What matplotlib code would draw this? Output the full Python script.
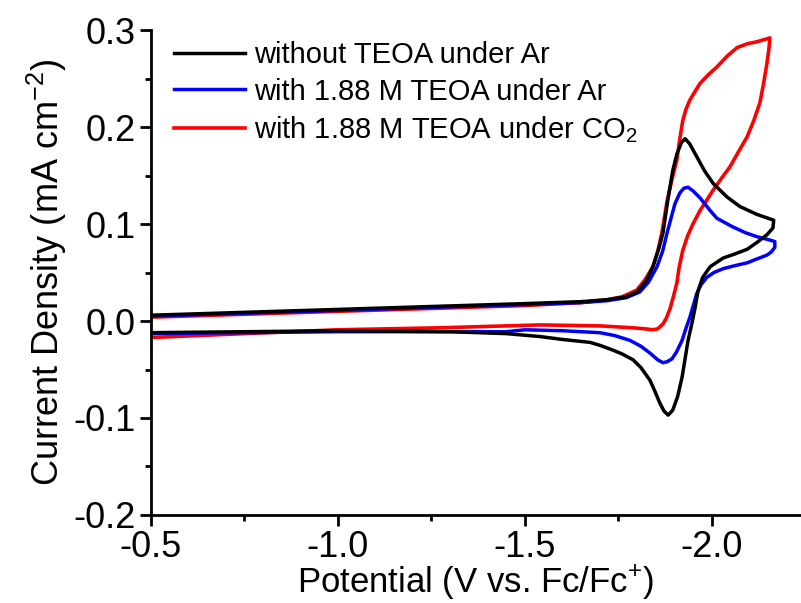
import matplotlib
matplotlib.use("Agg")
import matplotlib.pyplot as plt
from matplotlib.ticker import MultipleLocator, FormatStrFormatter

plt.rcParams['font.family'] = ['Liberation Sans', 'DejaVu Sans']
plt.rcParams['mathtext.default'] = 'regular'
plt.rcParams['axes.unicode_minus'] = False

# CV scans: forward sweep to the vertex, then back to -0.5 V
E_black = [-0.5, -0.75, -1.0, -1.25, -1.5, -1.65, -1.72, -1.77, -1.80, -1.825, -1.842, -1.858,
           -1.869, -1.882, -1.895, -1.906, -1.918, -1.928, -1.940, -1.960, -1.980, -2.003,
           -2.04, -2.075, -2.12, -2.165,
           -2.163, -2.147, -2.12, -2.094, -2.06, -2.03, -1.995, -1.975, -1.962, -1.955, -1.946,
           -1.936, -1.920, -1.908, -1.895, -1.883, -1.872, -1.861, -1.848, -1.834, -1.81, -1.789,
           -1.76, -1.735, -1.70, -1.674, -1.60, -1.54, -1.45, -1.3, -1.0, -0.75, -0.5]
j_black = [0.006, 0.009, 0.012, 0.015, 0.018, 0.020, 0.022, 0.025, 0.030, 0.042, 0.056, 0.075,
           0.091, 0.125, 0.155, 0.172, 0.184, 0.188, 0.183, 0.169, 0.155, 0.142,
           0.128, 0.118, 0.110, 0.104,
           0.096, 0.089, 0.081, 0.074, 0.069, 0.065, 0.056, 0.045, 0.030, 0.014, -0.003,
           -0.020, -0.058, -0.078, -0.092, -0.097, -0.093, -0.085, -0.073, -0.061, -0.048, -0.040,
           -0.034, -0.030, -0.025, -0.022, -0.019, -0.016, -0.013, -0.011, -0.010, -0.011, -0.012]

E_blue = [-0.5, -1.0, -1.5, -1.65, -1.72, -1.77, -1.807, -1.83, -1.853, -1.868, -1.88, -1.901,
          -1.914, -1.925, -1.936, -1.950, -1.968, -1.995, -2.013, -2.056, -2.09, -2.12, -2.150,
          -2.168,
          -2.168, -2.158, -2.147, -2.12, -2.094, -2.06, -2.03, -2.005, -1.986, -1.970, -1.959,
          -1.950, -1.941, -1.93, -1.92, -1.905, -1.893, -1.880, -1.869, -1.855, -1.834, -1.81,
          -1.781, -1.74, -1.70, -1.60, -1.50, -1.45, -1.3, -1.0, -0.5]
j_blue = [0.005, 0.011, 0.017, 0.019, 0.021, 0.024, 0.030, 0.040, 0.056, 0.072, 0.091, 0.121,
          0.132, 0.137, 0.138, 0.134, 0.127, 0.114, 0.106, 0.097, 0.091, 0.087, 0.084,
          0.082,
          0.076, 0.071, 0.068, 0.064, 0.060, 0.057, 0.054, 0.050, 0.045, 0.037, 0.028,
          0.016, 0.004, -0.008, -0.020, -0.032, -0.039, -0.042, -0.043, -0.040, -0.033, -0.026,
          -0.020, -0.015, -0.012, -0.010, -0.009, -0.011, -0.011, -0.011, -0.013]

E_red = [-0.5, -1.0, -1.5, -1.65, -1.72, -1.76, -1.799, -1.82, -1.842, -1.855, -1.866, -1.880,
         -1.893, -1.906, -1.914, -1.922, -1.931, -1.941, -1.955, -1.968, -1.99, -2.013, -2.04,
         -2.067, -2.095, -2.12, -2.155,
         -2.152, -2.147, -2.138, -2.128, -2.112, -2.094, -2.07, -2.048, -2.025, -2.003, -1.985,
         -1.968, -1.949, -1.935, -1.922, -1.912, -1.906, -1.896, -1.888, -1.878, -1.869, -1.855,
         -1.842, -1.82, -1.789, -1.70, -1.54, -1.27, -1.0, -0.5]
j_red = [0.004, 0.010, 0.016, 0.019, 0.022, 0.025, 0.032, 0.042, 0.056, 0.072, 0.091, 0.124,
         0.146, 0.166, 0.188, 0.207, 0.219, 0.228, 0.237, 0.245, 0.254, 0.262, 0.273,
         0.282, 0.286, 0.288, 0.292,
         0.280, 0.266, 0.245, 0.225, 0.207, 0.190, 0.174, 0.159, 0.147, 0.135, 0.124,
         0.114, 0.100, 0.088, 0.073, 0.055, 0.039, 0.024, 0.013, 0.003, -0.003, -0.008,
         -0.009, -0.008, -0.007, -0.005, -0.004, -0.007, -0.009, -0.017]

labels = ['without TEOA under Ar',
          'with 1.88 M TEOA under Ar',
          'with 1.88 M TEOA under CO$_2$']

fig = plt.figure(figsize=(8.01, 6.03), dpi=100)
ax = fig.add_axes([0.1885, 0.146, 0.8115, 0.804])

ax.plot(E_black, j_black, color='black', lw=2.5, label=labels[0], zorder=3)
ax.plot(E_blue, j_blue, color='#0000ff', lw=2.5, label=labels[1], zorder=2)
ax.plot(E_red, j_red, color='#ff0000', lw=2.6, label=labels[2], zorder=1)

ax.set_xlim(-0.5, -2.238)
ax.set_ylim(-0.2, 0.3)
ax.xaxis.set_major_locator(MultipleLocator(0.5))
ax.xaxis.set_minor_locator(MultipleLocator(0.25))
ax.yaxis.set_major_locator(MultipleLocator(0.1))
ax.yaxis.set_minor_locator(MultipleLocator(0.05))
ax.xaxis.set_major_formatter(FormatStrFormatter('%.1f'))
ax.yaxis.set_major_formatter(FormatStrFormatter('%.1f'))

for side in ['top', 'right']:
    ax.spines[side].set_visible(False)
for side in ['left', 'bottom']:
    ax.spines[side].set_linewidth(2)
ax.tick_params(which='major', direction='out', length=8, width=2, labelsize=26, pad=3)
ax.tick_params(which='minor', direction='out', length=4, width=2)

ax.set_xlabel('Potential (V vs. Fc/Fc$^{+}$)', fontsize=25, labelpad=-1)
ax.set_ylabel('Current Density (mA cm$^{-2}$)', fontsize=26, labelpad=3)

ax.legend(loc='upper left', bbox_to_anchor=(0.035, 0.978), frameon=False, fontsize=21,
          handlelength=2.45, handletextpad=0.3, labelspacing=0.3, borderaxespad=0,
          borderpad=0)

fig.savefig('out.png', dpi=100)
